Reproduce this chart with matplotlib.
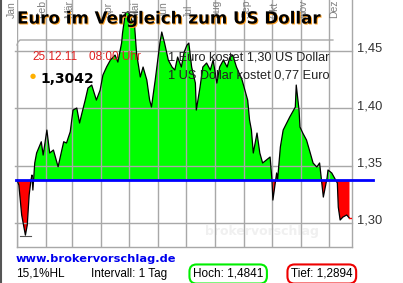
import matplotlib
matplotlib.use("Agg")
import matplotlib.pyplot as plt
import matplotlib.patheffects as pe
import numpy as np

#----------------------------------------------------------------
# EUR/USD 2011 (day of year, rate)
days = [0, 2, 5, 9, 11, 13, 15, 16, 17, 19, 21, 26, 28, 32, 35, 39, 44, 48, 50, 53,
        57, 60, 64, 67, 69, 73, 76, 80, 85, 89, 92, 96, 100, 105, 108, 112, 113, 116, 119, 123,
        126, 128, 132, 135, 139, 142, 144, 148, 153, 155, 158, 162, 166, 169, 172, 176, 179, 182, 184, 187,
        191, 192, 196, 199, 203, 207, 210, 214, 217, 221, 225, 228, 231, 235, 241, 244, 247, 249, 251, 253,
        257, 260, 263, 267, 271, 273, 274, 278, 279, 282, 285, 292, 298, 299, 302, 303, 306, 310, 314, 317,
        321, 324, 326, 328, 332, 333, 337, 340, 343, 344, 346, 349, 353, 356]
rates = [1.3375, 1.3331, 1.3070, 1.2894, 1.2983, 1.3244, 1.3375, 1.3418, 1.3287, 1.3523,
         1.3610, 1.3708, 1.3592, 1.3810, 1.3610, 1.3636, 1.3490, 1.3636, 1.3708, 1.3697,
         1.3795, 1.3984, 1.4002, 1.3871, 1.3940, 1.4070, 1.4176, 1.4202, 1.4071, 1.4158,
         1.4289, 1.4361, 1.4420, 1.4463, 1.4402, 1.4568, 1.4655, 1.4829, 1.4841, 1.4768,
         1.4707, 1.4480, 1.4272, 1.4359, 1.4246, 1.4071, 1.4011, 1.4246, 1.4568, 1.4664,
         1.4568, 1.4420, 1.4359, 1.4333, 1.4446, 1.4359, 1.4490, 1.4550, 1.4568, 1.4359,
         1.4219, 1.3984, 1.4185, 1.4359, 1.4394, 1.4333, 1.4420, 1.4219, 1.4359, 1.4420,
         1.4359, 1.4446, 1.4463, 1.4359, 1.4246, 1.4158, 1.4071, 1.3897, 1.3810, 1.3610,
         1.3784, 1.3610, 1.3523, 1.3549, 1.3575, 1.3375, 1.3200, 1.3436, 1.3375, 1.3662,
         1.3810, 1.3923, 1.4010, 1.4202, 1.3984, 1.3836, 1.3784, 1.3723, 1.3610, 1.3523,
         1.3488, 1.3523, 1.3375, 1.3226, 1.3392, 1.3462, 1.3436, 1.3392, 1.3348, 1.3139,
         1.3026, 1.3052, 1.3070, 1.3042]
base_rate = 1.3375

month_names = ["Jan", "Feb", "Mär", "Apr", "Mai", "Jun", "Jul", "Aug", "Sep", "Okt", "Nov", "Dez"]
month_starts = [0, 31, 59, 90, 120, 151, 181, 212, 243, 273, 304, 334]
label_px = [12, 42, 69, 109, 135, 164, 189, 217, 247, 275, 303, 334]

y_ticks = [1.30, 1.35, 1.40, 1.45]
y_labels = ["1,30", "1,35", "1,40", "1,45"]

title = "Euro im Vergleich zum US Dollar"
date_txt = "25.12.11"
time_txt = "08:00 Uhr"
last_txt = "1,3042"
info1 = "1 Euro kostet 1,30 US Dollar"
info2 = "1 US Dollar kostet 0,77 Euro"
url = "www.brokervorschlag.de"
hl_txt = "15,1%HL"
interval_txt = "Intervall: 1 Tag"
high_txt = "Hoch: 1,4841"
low_txt = "Tief: 1,2894"

#----------------------------------------------------------------
W, H = 403, 283
def fx(x) :
	return x / W
def fy(y) :
	return 1 - y / H

fig = plt.figure(figsize=(W / 100, H / 100), dpi=100)
fig.patch.set_facecolor("white")
ax = fig.add_axes([fx(17), fy(247), 335 / W, 247 / H])
ax.set_xlim(0, 358.7)
ax.set_ylim(1.2791, 1.4943)
for s in ax.spines.values() :
	s.set_visible(False)
ax.set_xticks([])
ax.set_yticks([])

grid_col = "#a8a8a8"
for m in month_starts :
	ax.axvline(m, color=grid_col, lw=1, zorder=3)
for t in y_ticks :
	ax.axhline(t, xmin=-2 / 335, xmax=1, color=grid_col, lw=1, zorder=3, clip_on=False)

# frame
top = 1 - 40 / 247
ax.plot([0, 0], [0, top - 0.02], color=grid_col, lw=1, transform=ax.transAxes, clip_on=False, zorder=3)
ax.plot([0, 0.003, 0.009, 0.943], [top - 0.02, top - 0.008, top, top], color=grid_col, lw=1,
		transform=ax.transAxes, clip_on=False, zorder=3)
ax.plot([1, 1], [0, 1], color=grid_col, lw=1, transform=ax.transAxes, clip_on=False, zorder=3)
ax.plot([0, 1], [0, 0], color=grid_col, lw=1, transform=ax.transAxes, clip_on=False, zorder=3)

d = np.array(days)
r = np.array(rates)
ax.fill_between(d, r, base_rate, where=r >= base_rate, interpolate=True, color="#00ff00", lw=0, zorder=2)
ax.fill_between(d, r, base_rate, where=r <= base_rate, interpolate=True, color="#ff0000", lw=0, zorder=2)
ax.plot(d, r, color="black", lw=0.9, zorder=4)

# high / low markers
i_hi = int(np.argmax(r))
i_lo = int(np.argmin(r))
ax.plot([d[i_hi] - 7, d[i_hi] + 10], [r[i_hi], r[i_hi]], color="#555555", lw=0.8, zorder=4)
ax.plot([d[i_lo] - 6, d[i_lo] + 6], [r[i_lo] - 0.0008, r[i_lo] - 0.0008], color="#555555", lw=0.8, zorder=4)
ax.plot([d[-1], d[-1] + 3], [r[-1], r[-1]], color="#ff0000", lw=1, zorder=4)

ax.axhline(base_rate, xmin=-1 / 335, xmax=356 / 335, color="#0000ff", lw=2, zorder=5, clip_on=False)

for t, lab in zip(y_ticks, y_labels) :
	ax.text(1 + 5 / 335, t + 0.0018, lab, transform=ax.get_yaxis_transform(), ha="left", va="center",
			fontsize=9.3, family="Liberation Sans", color="#333333")

# faint watermark
ax.text(262, 1.2925, "brokervorschlag", ha="center", va="center", fontsize=9, fontweight="bold",
		color="#f0f0f0", zorder=1)

# month labels at the top
for name, x in zip(month_names, label_px) :
	fig.text(fx(x), fy(18), name, rotation=90, rotation_mode="anchor", ha="left", va="center",
			 fontsize=7.5, family="Liberation Sans", color="#808080")

fig.text(fx(17), fy(23.5), title, fontsize=12, fontweight="bold", family="DejaVu Sans", color="black",
		 path_effects=[pe.withSimplePatchShadow(offset=(0.7, -0.7), shadow_rgbFace="#ffa020", alpha=1)], zorder=10)

fig.text(fx(32), fy(60), date_txt, fontsize=8.5, family="Liberation Sans", color="#e02020", zorder=10)
fig.text(fx(89), fy(60), time_txt, fontsize=8.5, family="Liberation Sans", color="#e02020", zorder=10)
fig.text(fx(33), fy(76), "\u25cf", fontsize=5, color="#ffb000", ha="center", va="center", zorder=10)
fig.text(fx(40), fy(82.5), last_txt, fontsize=10, fontweight="bold", family="DejaVu Sans", color="black", zorder=10)
fig.text(fx(168), fy(61), info1, fontsize=9.2, family="Liberation Sans", color="#222222", zorder=10)
fig.text(fx(168), fy(79), info2, fontsize=9.2, family="Liberation Sans", color="#222222", zorder=10)

# footer
fig.text(fx(16), fy(262), url, fontsize=8.2, fontweight="bold", family="DejaVu Sans", color="#0000ee")
fig.text(fx(16), fy(277), hl_txt, fontsize=8.5, family="Liberation Sans", color="black")
fig.text(fx(91), fy(277), interval_txt, fontsize=8.5, family="Liberation Sans", color="black")
fig.text(fx(193), fy(277), high_txt, fontsize=8.5, family="Liberation Sans", color="black",
		 bbox=dict(boxstyle="round,pad=0.3,rounding_size=0.6", fc="white", ec="#00ee00", lw=1.5))
fig.text(fx(291), fy(277), low_txt, fontsize=8.5, family="Liberation Sans", color="black",
		 bbox=dict(boxstyle="round,pad=0.3,rounding_size=0.6", fc="white", ec="#ee0000", lw=1.5))

fig.add_artist(plt.Line2D([0.5 / W, 0.5 / W], [0, 1], color="#555555", lw=1.5, transform=fig.transFigure))

fig.savefig("out.png", dpi=100)
